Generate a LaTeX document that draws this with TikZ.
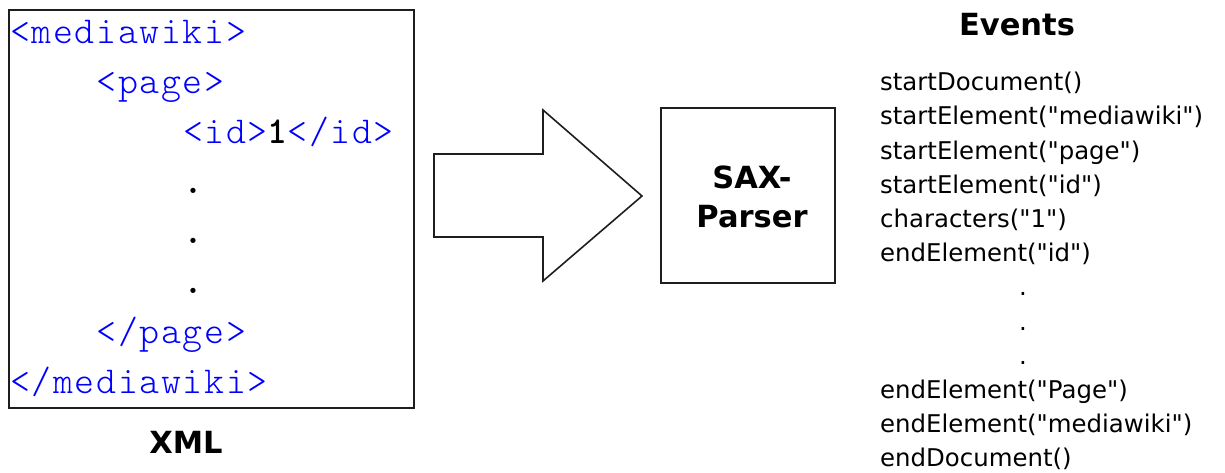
\documentclass[tikz,border=0pt]{standalone}
\usepackage{fontspec}
\setmainfont{DejaVu Sans}
% event list font: no TeX ligature mapping, so " stays a straight quote
\newfontfamily\evfont{DejaVu Sans}
\newfontfamily\codefont{Latin Modern Mono Light}[LetterSpace=4.3]
\newfontfamily\codebold{lmmonolt10-bold.otf}[LetterSpace=4.3]
\definecolor{tagblue}{RGB}{0,0,255}
\definecolor{edgegray}{RGB}{30,30,30}

\begin{document}
\begin{tikzpicture}[x=1pt,y=-1pt,
  code/.style={anchor=base west,inner sep=0pt,text=tagblue,
    font=\codefont\fontsize{38}{38}\selectfont},
  codedot/.style={code,text=black,font=\codebold\fontsize{38}{38}\selectfont},
  ev/.style={anchor=base west,inner sep=0pt,font=\evfont\fontsize{24.4}{24.4}\selectfont},
  evdot/.style={ev,anchor=base},
  heading/.style={anchor=base,inner sep=0pt,font=\bfseries\fontsize{30.5}{30.5}\selectfont},
  frame/.style={draw=edgegray,line width=2pt,inner sep=0pt},
  blockarrow/.style={draw=edgegray,line width=1.6pt,fill=white,line join=miter}]
\useasboundingbox (0,0) rectangle (1225,472);

% XML document
\node[frame,anchor=north west,minimum width=405pt,minimum height=398pt] (xmlbox) at (8,9) {};
\def\cw{21.6}
\def\xo{10}
\node[code] (l1) at (\xo,43) {<mediawiki>};
\node[code] (l2) at ({\xo+4*\cw},93) {<page>};
\node[code] (l3) at ({\xo+8*\cw},143) {<id>\textcolor{black}{\codebold 1}</id>};
\node[codedot] (d1) at ({\xo+8*\cw},193) {.};
\node[codedot] (d2) at ({\xo+8*\cw},243) {.};
\node[codedot] (d3) at ({\xo+8*\cw},293) {.};
\node[code] (l4) at ({\xo+4*\cw},343) {</page>};
\node[code] (l5) at (\xo,393) {</mediawiki>};
\node[heading] (xmllabel) at (186,453) {XML};

% block arrow towards the parser
\draw[blockarrow] (434,154) -- (543,154) -- (543,110) -- (642,196)
  -- (543,281) -- (543,237) -- (434,237) -- cycle;

% parser
\node[frame,minimum width=174pt,minimum height=175pt] (parser) at (748,195.5) {};
\node[heading] (sax) at (752,188) {SAX-};
\node[heading] (pars) at (752,227) {Parser};

% emitted events
\node[heading] (evhead) at (1017,35) {Events};
\def\ex{880}
\def\ey{90.7}
\def\es{34.2}
\node[ev] (e1) at (\ex,{\ey+0*\es}) {startDocument()};
\node[ev] (e2) at (\ex,{\ey+1*\es}) {startElement("mediawiki")};
\node[ev] (e3) at (\ex,{\ey+2*\es}) {startElement("page")};
\node[ev] (e4) at (\ex,{\ey+3*\es}) {startElement("id")};
\node[ev] (e5) at (\ex,{\ey+4*\es}) {characters("1")};
\node[ev] (e6) at (\ex,{\ey+5*\es}) {endElement("id")};
\node[evdot] (e7) at (1023,{\ey+6*\es}) {.};
\node[evdot] (e8) at (1023,{\ey+7*\es}) {.};
\node[evdot] (e9) at (1023,{\ey+8*\es}) {.};
\node[ev] (e10) at (\ex,{\ey+9*\es}) {endElement("Page")};
\node[ev] (e11) at (\ex,{\ey+10*\es}) {endElement("mediawiki")};
\node[ev] (e12) at (\ex,{\ey+11*\es}) {endDocument()};
\end{tikzpicture}
\end{document}
